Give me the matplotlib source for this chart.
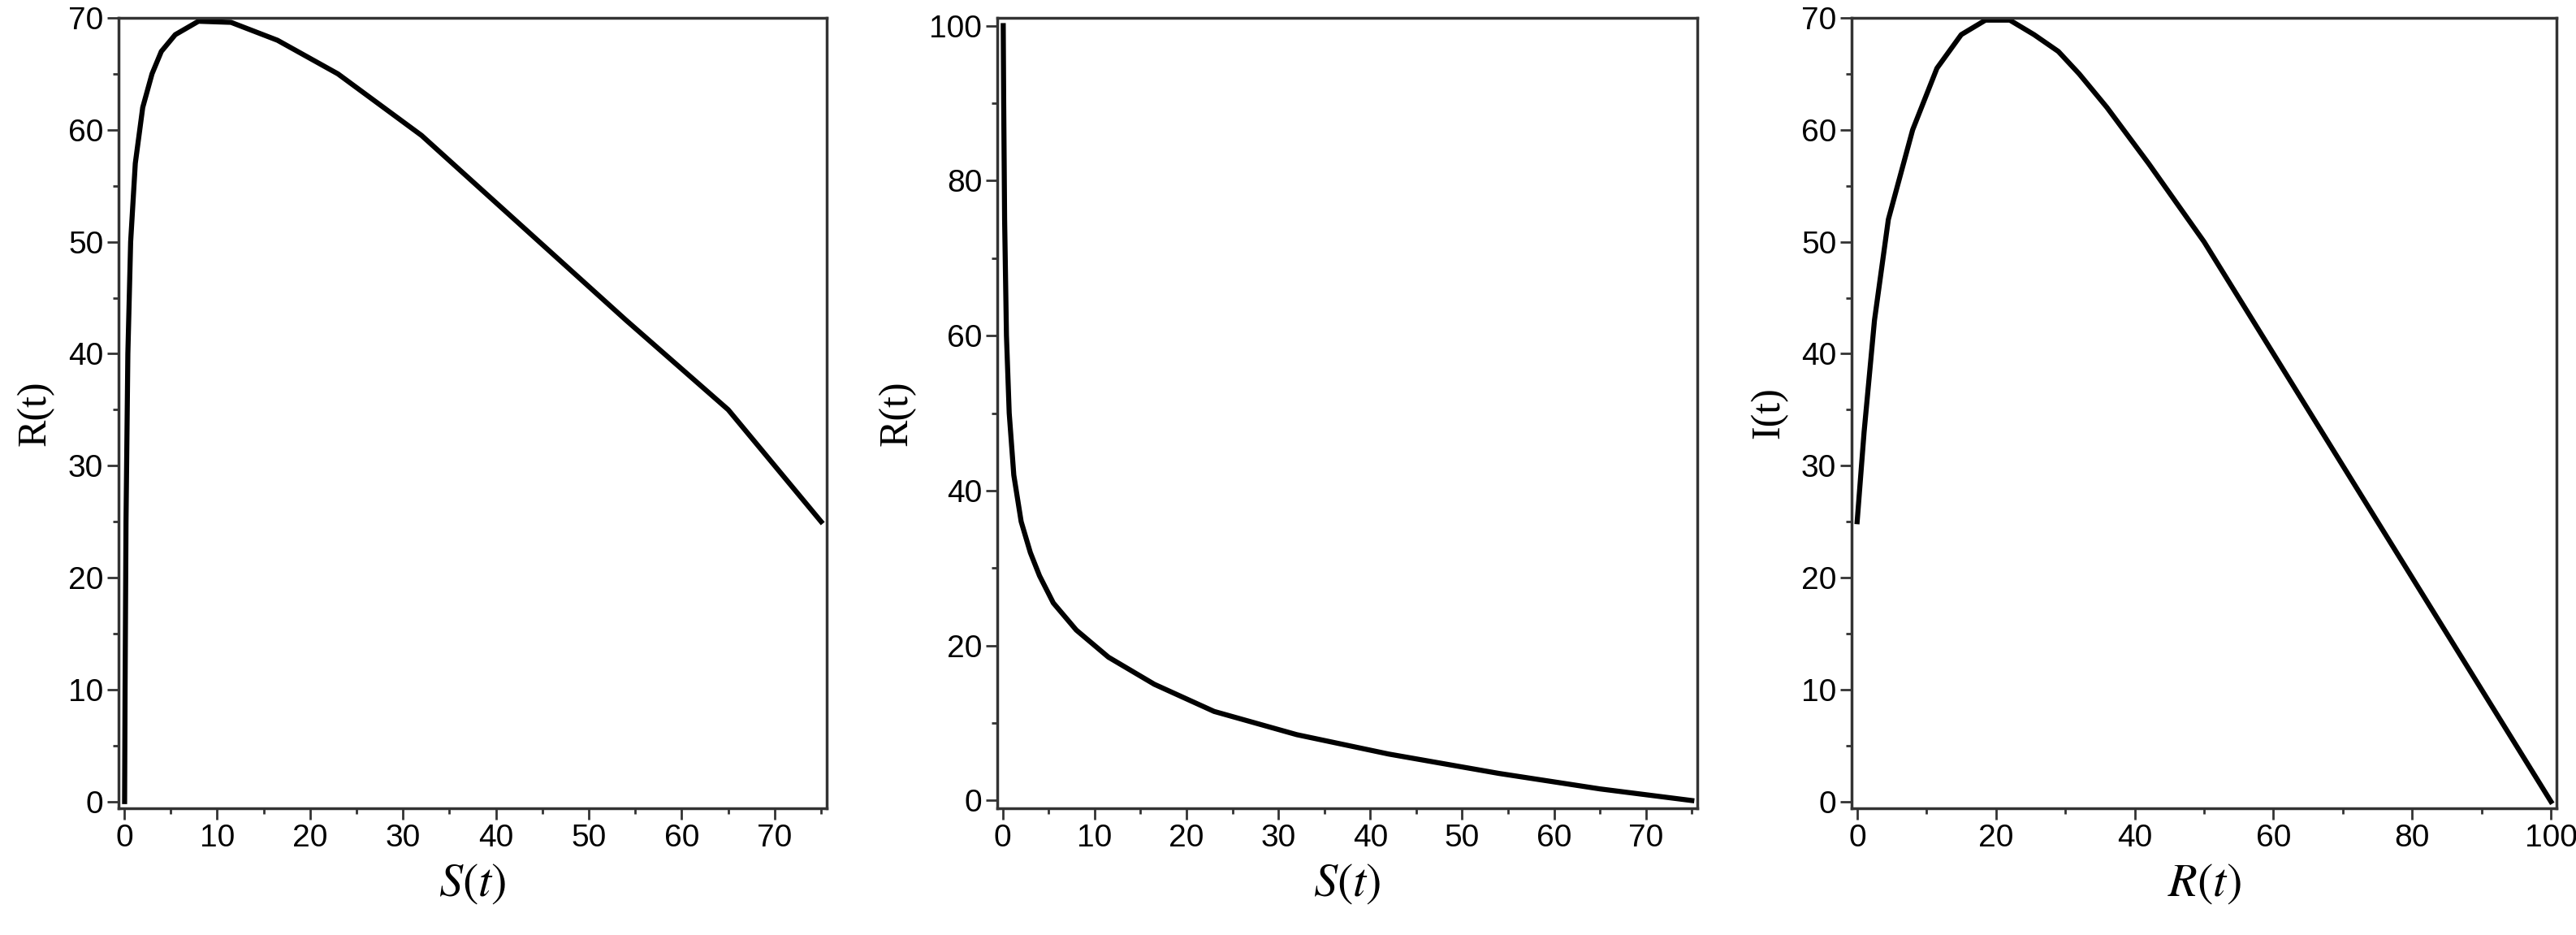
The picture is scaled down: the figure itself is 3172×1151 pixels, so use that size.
import numpy as np
import matplotlib.pyplot as plt
from matplotlib.ticker import MultipleLocator

plt.rcParams['mathtext.fontset'] = 'stix'

# values
s_vals = [75, 65, 54, 42, 32, 23, 16.5, 11.5, 8, 5.5, 4, 3, 2, 1.2, 0.7, 0.4, 0.2, 0.1, 0.05]
i_vals = [25, 35, 43, 52, 59.5, 65, 68, 69.6, 69.7, 68.5, 67, 65, 62, 57, 50, 40, 25, 10, 0]
r_vals = [0, 1.5, 3.5, 6, 8.5, 11.5, 15, 18.5, 22, 25.5, 29, 32, 36, 42, 50, 60, 75, 90, 100]

r3_vals = [0, 1, 2.5, 4.5, 8, 11.5, 15, 18.5, 22, 25.5, 29, 32, 36, 42, 50, 60, 75, 90, 100]
i3_vals = [25, 33, 43, 52, 60, 65.5, 68.5, 69.8, 69.8, 68.5, 67, 65, 62, 57, 50, 40, 25, 10, 0]

fig = plt.figure(figsize=(31.72, 11.51), dpi=100)
W, H = 3172, 1151
boxes = [(146, 1018), (1228, 2090), (2280, 3148)]
top, bottom = 22, 995

panels = [
    (s_vals, i_vals, r'$S\left(t\right)$', 'R(t)', (-0.6, 75.6), (-0.6, 70), 10, 5, 10, 5),
    (s_vals, r_vals, r'$S\left(t\right)$', 'R(t)', (-0.6, 75.6), (-1, 101), 10, 5, 20, 10),
    (r3_vals, i3_vals, r'$R\left(t\right)$', 'I(t)', (-0.8, 100.8), (-0.6, 70), 20, 10, 10, 5),
]

for (l, r), (x, y, xl, yl, xlim, ylim, xmaj, xmin, ymaj, ymin) in zip(boxes, panels):
    ax = fig.add_axes([l / W, 1 - bottom / H, (r - l) / W, (bottom - top) / H])
    ax.plot(x, y, color='black', lw=4.5, solid_joinstyle='round')
    ax.set_xlim(*xlim)
    ax.set_ylim(*ylim)
    ax.xaxis.set_major_locator(MultipleLocator(xmaj))
    ax.xaxis.set_minor_locator(MultipleLocator(xmin))
    ax.yaxis.set_major_locator(MultipleLocator(ymaj))
    ax.yaxis.set_minor_locator(MultipleLocator(ymin))
    ax.tick_params(which='major', length=10, width=2, labelsize=28, color='#333333')
    ax.tick_params(which='minor', length=5, width=2, color='#333333')
    for lab in ax.get_xticklabels() + ax.get_yticklabels():
        lab.set_family('Liberation Sans')
    for sp in ax.spines.values():
        sp.set_linewidth(2.5)
        sp.set_color('#333333')
    ax.set_xlabel(xl, fontsize=42, labelpad=6)
    ax.set_ylabel(yl, fontsize=36, family='Liberation Serif', labelpad=12)

fig.savefig('out.png', dpi=100)
